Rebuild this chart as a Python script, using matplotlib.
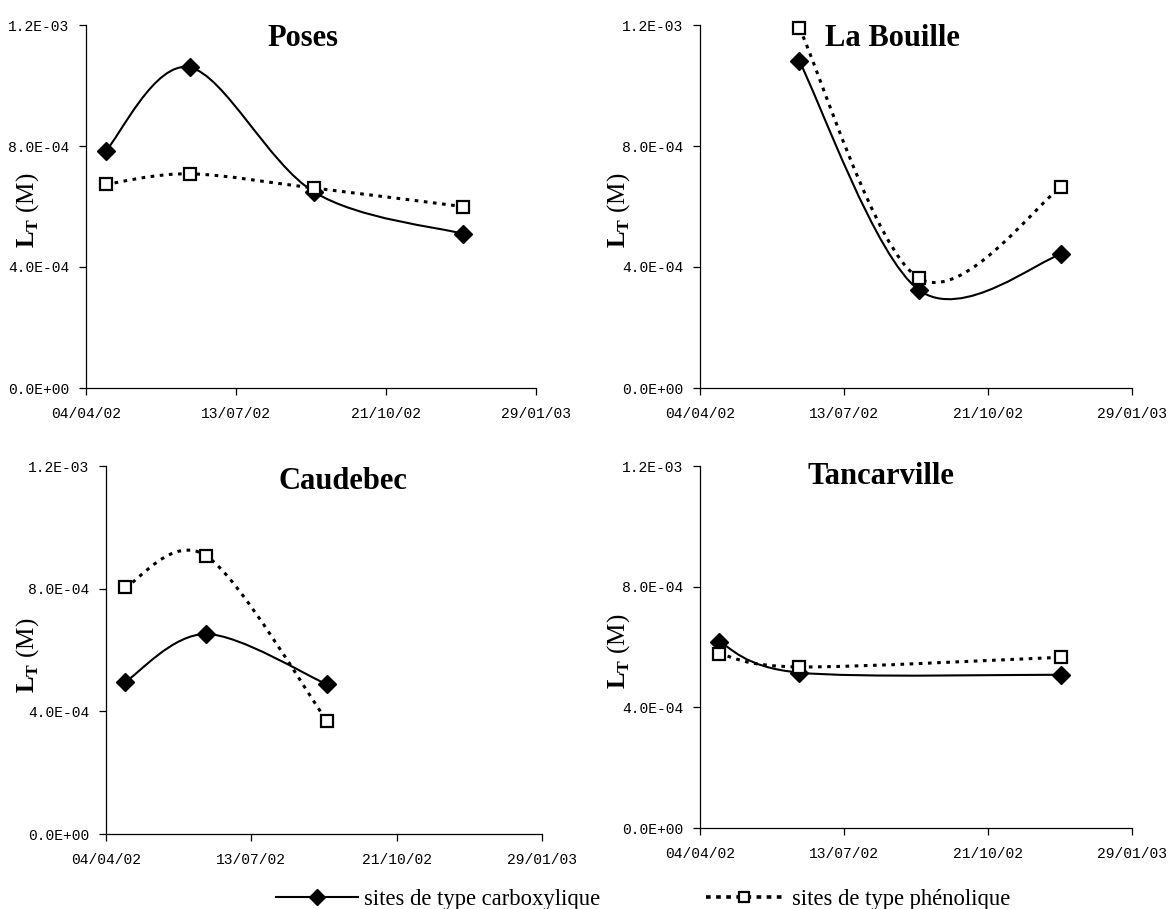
import datetime as dt
import numpy as np
import matplotlib
matplotlib.use('Agg')
import matplotlib.pyplot as plt
import matplotlib.dates as mdates
from matplotlib.path import Path
from matplotlib.patches import PathPatch
from matplotlib.lines import Line2D
from matplotlib.ticker import FuncFormatter, FixedLocator

# Data (LT in mol/L)
poses_dates = ['2002-04-17', '2002-06-12', '2002-09-03', '2002-12-11']
poses_carbox = [7.83e-4, 1.06e-3, 6.48e-4, 5.10e-4]
poses_phenol = [6.73e-4, 7.08e-4, 6.61e-4, 6.00e-4]

bouille_dates = ['2002-06-12', '2002-09-03', '2002-12-11']
bouille_carbox = [1.08e-3, 3.24e-4, 4.42e-4]
bouille_phenol = [1.19e-3, 3.63e-4, 6.65e-4]

caudebec_dates = ['2002-04-17', '2002-06-12', '2002-09-03']
caudebec_carbox = [4.95e-4, 6.52e-4, 4.88e-4]
caudebec_phenol = [8.04e-4, 9.07e-4, 3.69e-4]

tancar_dates = ['2002-04-17', '2002-06-12', '2002-12-11']
tancar_carbox = [6.17e-4, 5.15e-4, 5.08e-4]
tancar_phenol = [5.78e-4, 5.34e-4, 5.66e-4]

x_ticks = ['2002-04-04', '2002-07-13', '2002-10-21', '2003-01-29']
y_ticks = [0.0, 4e-4, 8e-4, 1.2e-3]

W, H = 1171, 909
plt.rcParams['mathtext.fontset'] = 'custom'
plt.rcParams['mathtext.rm'] = 'Liberation Serif'
plt.rcParams['mathtext.bf'] = 'Liberation Serif:bold'

DOTS = (0, (1.2, 1.8))


def to_num(ds):
    return mdates.date2num([dt.datetime.strptime(d, '%Y-%m-%d') for d in ds])


def smooth_path(x, y):
    # Excel-like smoothed line: cubic Bezier with Catmull-Rom control points
    pts = np.column_stack([x, y])
    n = len(pts)
    verts = [pts[0]]
    codes = [Path.MOVETO]
    for i in range(n - 1):
        p0 = pts[max(i - 1, 0)]
        p1 = pts[i]
        p2 = pts[i + 1]
        p3 = pts[min(i + 2, n - 1)]
        c1 = p1 + (p2 - p0) / 6.0
        c2 = p2 - (p3 - p1) / 6.0
        verts += [c1, c2, p2]
        codes += [Path.CURVE4] * 3
    return Path(verts, codes)


def panel(rect, dates, carbox, phenol, title, title_xy, ylab_xy):
    ax = fig.add_axes(rect)
    x = to_num(dates)
    ax.add_patch(PathPatch(smooth_path(x, carbox), fill=False, color='black', lw=1.5,
                           clip_on=False))
    ax.add_patch(PathPatch(smooth_path(x, phenol), fill=False, color='black', lw=2.2,
                           linestyle=DOTS, clip_on=False))
    ax.plot(x, carbox, ls='none', marker='D', ms=9, mfc='black', mec='black', clip_on=False)
    ax.plot(x, phenol, ls='none', marker='s', ms=8.5, mfc='white', mec='black', mew=1.6,
            clip_on=False)

    xt = to_num(x_ticks)
    ax.set_xlim(xt[0], xt[-1])
    ax.set_ylim(0, 1.2e-3)
    ax.xaxis.set_major_locator(FixedLocator(xt))
    ax.xaxis.set_major_formatter(mdates.DateFormatter('%d/%m/%y'))
    ax.yaxis.set_major_locator(FixedLocator(y_ticks))
    ax.yaxis.set_major_formatter(FuncFormatter(lambda v, p: '%.1E' % v))
    for s in ['top', 'right']:
        ax.spines[s].set_visible(False)
    for s in ['left', 'bottom']:
        ax.spines[s].set_linewidth(0.9)
    ax.tick_params(axis='y', direction='out', length=5, width=0.9, pad=7)
    ax.tick_params(axis='x', direction='out', length=5, width=0.9, pad=9)
    for lab in ax.get_xticklabels() + ax.get_yticklabels():
        lab.set_fontfamily('Liberation Mono')
        lab.set_fontsize(10.5)
    fig.text(ylab_xy[0] / W, 1 - ylab_xy[1] / H, r'$\mathbf{L}_{\mathbf{T}}$ (M)',
             rotation=90, ha='center', va='center', fontsize=18, family='Liberation Serif')
    fig.text(title_xy[0] / W, 1 - title_xy[1] / H, title, ha='center', va='center',
             fontsize=22, fontweight='bold', family='Liberation Serif')
    return ax


fig = plt.figure(figsize=(W / 100, H / 100), dpi=100)

panel([86 / W, 1 - 388 / H, 450 / W, 363 / H], poses_dates, poses_carbox, poses_phenol,
      'Poses', (303, 38), (28, 210))
panel([700 / W, 1 - 388 / H, 432 / W, 363 / H], bouille_dates, bouille_carbox, bouille_phenol,
      'La Bouille', (892, 38), (619, 210))
panel([106 / W, 1 - 834 / H, 436 / W, 368 / H], caudebec_dates, caudebec_carbox, caudebec_phenol,
      'Caudebec', (343, 481), (28, 655))
panel([700 / W, 1 - 828 / H, 432 / W, 362 / H], tancar_dates, tancar_carbox, tancar_phenol,
      'Tancarville', (881, 477), (619, 651))

leg_font = {'family': 'Liberation Serif', 'size': 16.3}
h1 = Line2D([], [], color='black', lw=1.5, marker='D', ms=8)
h2 = Line2D([], [], color='black', lw=2.6, ls=(0, (1.3, 1.5)), marker='s', ms=7.5,
            mfc='white', mec='black', mew=1.6)
fig.legend([h1], ['sites de type carboxylique'], loc='center left',
           bbox_to_anchor=(276 / W, 1 - 899 / H), frameon=False, borderpad=0,
           borderaxespad=0, handlelength=3.6, handletextpad=0.27, prop=leg_font)
fig.legend([h2], ['sites de type phénolique'], loc='center left',
           bbox_to_anchor=(706 / W, 1 - 899 / H), frameon=False, borderpad=0,
           borderaxespad=0, handlelength=3.4, handletextpad=0.4, prop=leg_font)

fig.savefig('out.png', dpi=100)
